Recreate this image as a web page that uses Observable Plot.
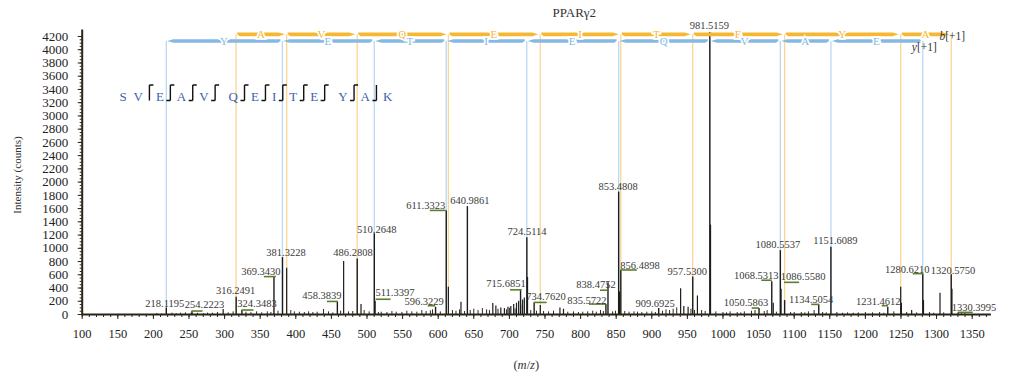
<!DOCTYPE html>
<html><head><meta charset="utf-8">
<script src="https://cdn.jsdelivr.net/npm/d3@7"></script>
<script src="https://cdn.jsdelivr.net/npm/@observablehq/plot@0.6"></script>
<style>
html,body{margin:0;padding:0;background:#fff;}
#chart svg{display:block;}
</style></head><body><div id="chart"></div>
<script>
// ---------------- data ----------------
const chartTitle = "PPARγ2";
const peptideSeq = ["S","V","E","A","V","Q","E","I","T","E","Y","A","K"];
const cleavageAfter = ["", "y", "by", "by", "by", "by", "by", "by", "by", "by", "by", "b"];
const bIonMz = [316.15, 387.19, 486.26, 614.32, 743.36, 856.45, 957.49, 1086.54, 1249.60, 1320.64];
const bResidues = ["A","V","Q","E","I","T","E","Y","A"];
const yIonMz = [218.15, 381.21, 510.26, 611.30, 724.39, 853.43, 981.49, 1080.56, 1151.60, 1280.64];
const yResidues = ["Y","E","T","I","E","Q","V","A","E"];

const labeledMz = [218.1195, 254.2223, 316.2491, 324.3483, 369.3430, 381.3228, 458.3839, 486.2808, 510.2648, 511.3397, 596.3229, 611.3323, 640.9861, 715.6851, 724.5114, 734.7620, 835.5722, 838.4752, 853.4808, 856.4898, 909.6925, 957.5300, 981.5159, 1050.5863, 1068.5313, 1080.5537, 1086.5580, 1134.5054, 1151.6089, 1231.4612, 1280.6210, 1320.5750, 1330.3995];
const labeledIntensity = [100, 45, 260, 60, 565, 860, 190, 840, 1220, 200, 110, 1565, 1630, 365, 1160, 175, 150, 480, 1850, 665, 90, 565, 4260, 90, 495, 965, 211, 145, 1015, 110, 610, 600, 25];

const otherMz = [298.0, 387.2, 467.2, 491.6, 614.3, 632.0, 676.7, 681.0, 688.0, 693.0, 698.0, 702.0, 706.0, 710.0, 713.0, 718.6, 721.0, 725.5, 743.4, 771.0, 776.0, 854.5, 940.5, 945.0, 951.0, 964.1, 982.5, 1070.6, 1081.6, 1249.6, 1250.6, 1265.0, 1281.6, 1304.8, 1321.6];
const otherIntensity = [75, 700, 800, 150, 410, 186, 165, 130, 100, 90, 110, 120, 150, 170, 200, 220, 250, 560, 136, 100, 80, 340, 390, 120, 110, 280, 1350, 170, 380, 410, 170, 60, 210, 320, 380];

const noiseMz = [205, 212, 226, 232, 238, 245, 253, 262, 270, 276, 283, 290, 305, 312, 330, 337, 345, 352, 360, 365, 375, 393, 398, 405, 412, 418, 424, 430, 439, 446, 452, 463, 474, 480, 496, 503, 516, 520, 528, 535, 541, 549, 556, 563, 570, 577, 583, 589, 592, 603, 620, 625, 630, 637, 645, 650, 656, 662, 668, 672, 684, 696, 700, 708, 716, 730, 738, 748, 755, 762, 782, 790, 797, 803, 810, 817, 822, 828, 832, 845, 849, 862, 868, 875, 880, 886, 893, 900, 905, 915, 920, 925, 930, 935, 955, 960, 970, 975, 990, 1000, 1005, 1010, 1020, 1025, 1030, 1040, 1045, 1058, 1062, 1075, 1095, 1100, 1110, 1115, 1120, 1128, 1140, 1145, 1160, 1168, 1175, 1183, 1190, 1200, 1210, 1220, 1226, 1240, 1258, 1272, 1290, 1296, 1310, 1335, 1340];
const noiseIntensity = [15, 10, 20, 12, 20, 25, 20, 18, 12, 20, 20, 30, 25, 40, 35, 28, 40, 25, 40, 30, 50, 60, 40, 35, 30, 40, 30, 35, 75, 40, 25, 50, 40, 45, 60, 40, 30, 35, 30, 45, 35, 30, 50, 40, 35, 60, 45, 55, 70, 40, 60, 50, 70, 45, 60, 80, 60, 90, 70, 60, 80, 70, 95, 85, 140, 60, 50, 45, 40, 50, 35, 40, 30, 35, 40, 50, 35, 60, 45, 40, 50, 45, 35, 40, 35, 30, 35, 40, 30, 50, 70, 60, 80, 100, 80, 60, 60, 45, 40, 30, 25, 40, 30, 25, 40, 50, 60, 45, 60, 35, 30, 30, 30, 25, 40, 60, 30, 25, 30, 20, 25, 20, 25, 30, 25, 30, 20, 40, 30, 25, 30, 20, 25, 15, 12];

const xTicks = d3.range(100, 1351, 50);
const xMinorTicks = d3.range(100, 1371, 10);
const yTicks = d3.range(0, 4201, 200);
const yMinorTicks = d3.range(0, 4201, 50);

// ---------------- layout (pixels, not data) ----------------
const labelLayout = {
  "218.1195": {dx: -1, dy: -4},
  "254.2223": {dx: 13, dy: -7, leader: [0, 11]},
  "316.2491": {dx: 0, dy: -6},
  "324.3483": {dx: 15.6, dy: -7, leader: [0, 12]},
  "369.3430": {dx: -12.6, dy: -5, leader: [-9.6, 2.4]},
  "381.3228": {dx: 4, dy: -5},
  "458.3839": {dx: -15, dy: -5.7, leader: [-10, 1]},
  "486.2808": {dx: -3.7, dy: -5.7},
  "510.2648": {dx: 3, dy: -4},
  "511.3397": {dx: 20.4, dy: -8, leader: [1, 16], ldy: -1.5},
  "596.3229": {dx: -11, dy: -5, leader: [-7.4, 0], ldy: -1},
  "611.3323": {dx: -20, dy: -5, leader: [-16, 0]},
  "640.9861": {dx: 3, dy: -6},
  "715.6851": {dx: -14, dy: -6.5, leader: [-10, 1.6]},
  "724.5114": {dx: 0.7, dy: -5.5},
  "734.7620": {dx: 12.4, dy: -5.7, leader: [0, 13]},
  "835.5722": {dx: -18.5, dy: -4, leader: [-16.5, 0]},
  "838.4752": {dx: -11.5, dy: 2, leader: [-7.5, 0.5], ldy: 8},
  "853.4808": {dx: 0, dy: -5},
  "856.4898": {dx: 19.7, dy: -5, leader: [0, 16.5]},
  "909.6925": {dx: -3, dy: -5},
  "957.5300": {dx: -5, dy: -5},
  "981.5159": {dx: 0, dy: -6.3},
  "1050.5863": {dx: -12.5, dy: -5.5, leader: [-6.8, 0.5]},
  "1068.5313": {dx: -15, dy: -6, leader: [-10, 0.5], ldy: -1},
  "1080.5537": {dx: -2, dy: -6},
  "1086.5580": {dx: 19, dy: -23.3, leader: [0, 15], ldy: -17.7},
  "1134.5054": {dx: -7, dy: -5.4, leader: [-7, 1]},
  "1151.6089": {dx: 5, dy: -6.8},
  "1231.4612": {dx: -9, dy: -5.7, leader: [-5.6, 0.7], ldy: -1},
  "1280.6210": {dx: -15, dy: -4.6, leader: [-9.6, 0.7]},
  "1320.5750": {dx: 2.3, dy: -4.3},
  "1330.3995": {dx: 16.3, dy: -5, leader: [0, 15]}
};
const C = {axis: "#2b2418", peak: "#1c1c1c", noise: "#2a2a2a", label: "#3a3a3a", leader: "#5b7f2c",
  bBar: "#f6b733", bLine: "#fbd594", yBar: "#85b8e3", yLine: "#b9d8f1", seq: "#3d62ac", bracket: "#111"};
const FONT = "'Liberation Serif', 'DejaVu Serif', serif";
const bLevel = 4225, yLevel = 4125, seqLevel = 3293, seqStartMz = 158.3;

const peaks = labeledMz.map((mz, i) => ({mz, intensity: labeledIntensity[i], label: mz.toFixed(4)}));
const others = otherMz.map((mz, i) => ({mz, intensity: otherIntensity[i]}));
const noise = noiseMz.map((mz, i) => ({mz, intensity: noiseIntensity[i]}));

// ---------------- custom marks using Plot scales ----------------
function labelMark(index, scales) {
  const x = scales.x, y = scales.y;
  const g = d3.create("svg:g").attr("font-family", FONT).attr("font-size", 10.5)
    .attr("fill", C.label).attr("text-anchor", "middle");
  peaks.forEach(p => {
    const L = labelLayout[p.label] || {dx: 0, dy: -5};
    const px = x(p.mz), py = y(p.intensity);
    if (L.leader) {
      const ly = py + (L.ldy || 0);
      g.append("line").attr("x1", px + L.leader[0]).attr("x2", px + L.leader[1])
        .attr("y1", ly).attr("y2", ly).attr("stroke", C.leader).attr("stroke-width", 1.6);
    }
    g.append("text").attr("x", px + L.dx).attr("y", py + L.dy).attr("dy", "0.35em").text(p.label);
  });
  return g.node();
}

function ladderMark(index, scales) {
  const x = scales.x, y = scales.y;
  const g = d3.create("svg:g");
  const h = 1.8;
  function seg(xa, xb, yc, dir, color) {
    const x1 = xa + 1.5, x2 = xb - 1.5;
    let pts;
    if (dir > 0) pts = [[x1, yc - h], [x2 - 6, yc - h], [x2, yc], [x2 - 6, yc + h], [x1 + 2.5, yc + h], [x1, yc]];
    else pts = [[x2, yc - h], [x1 + 6, yc - h], [x1, yc], [x1 + 6, yc + h], [x2 - 2.5, yc + h], [x2, yc]];
    g.append("path").attr("d", "M" + pts.map(p => p.join(",")).join("L") + "Z").attr("fill", color);
  }
  function letters(ions, residues, yc, color) {
    residues.forEach((r, i) => {
      const xm = (x(ions[i]) + x(ions[i + 1])) / 2;
      g.append("text").attr("x", xm).attr("y", yc).attr("dy", "0.36em").attr("text-anchor", "middle")
        .attr("font-family", FONT).attr("font-size", 11).attr("fill", color)
        .attr("stroke", "white").attr("stroke-width", 3.5).attr("paint-order", "stroke").text(r);
    });
  }
  const yb = y(bLevel), yy = y(yLevel);
  for (let i = 0; i < bIonMz.length - 1; i++) seg(x(bIonMz[i]), x(bIonMz[i + 1]), yb, 1, C.bBar);
  for (let i = 0; i < yIonMz.length - 1; i++) seg(x(yIonMz[i]), x(yIonMz[i + 1]), yy, -1, C.yBar);
  letters(bIonMz, bResidues, yb, C.bBar);
  letters(yIonMz, yResidues, yy, C.yBar);
  const tb = g.append("text").attr("x", x(bIonMz[bIonMz.length - 1]) + 1.5).attr("y", yb + 1.5).attr("dy", "0.35em")
    .attr("font-family", FONT).attr("font-size", 11.5).attr("fill", "#333");
  tb.append("tspan").attr("font-style", "italic").text("b");
  tb.append("tspan").text("[+1]");
  const ty = g.append("text").attr("x", x(yIonMz[yIonMz.length - 1]) + 2).attr("y", yy + 6).attr("dy", "0.35em")
    .attr("font-family", FONT).attr("font-size", 11.5).attr("fill", "#333");
  ty.append("tspan").attr("font-style", "italic").text("y");
  ty.append("tspan").text("[+1]");
  return g.node();
}

function sequenceMark(index, scales) {
  const x = scales.x, y = scales.y;
  const g = d3.create("svg:g");
  const widths = {S: .556, V: .722, E: .611, A: .722, Q: .722, I: .333, T: .611, Y: .722, K: .722};
  const fs = 13;
  let cx = x(seqStartMz);
  const cy = y(seqLevel);
  peptideSeq.forEach((r, i) => {
    g.append("text").attr("x", cx).attr("y", cy).attr("dy", "0.35em").attr("text-anchor", "middle")
      .attr("font-family", FONT).attr("font-size", fs).attr("fill", C.seq).text(r);
    if (i < peptideSeq.length - 1) {
      const w = widths[r] * fs / 2, wn = widths[peptideSeq[i + 1]] * fs / 2;
      const cut = cleavageAfter[i];
      if (cut) {
        const bx = cx + w + 6.5, top = cy - 11, bot = cy + 4.5;
        let d = `M${bx},${top}L${bx},${bot}`;
        if (cut.includes("b")) d += `M${bx - 4},${bot}L${bx},${bot}`;
        if (cut.includes("y")) d += `M${bx},${top}L${bx + 4},${top}`;
        g.append("path").attr("d", d).attr("fill", "none").attr("stroke", C.bracket).attr("stroke-width", 1.4);
        cx = cx + w + 13 + wn;
      } else {
        cx = cx + w + 6.7 + wn;
      }
      if ((i + 1) % 5 === 0) cx += 7;
    }
  });
  return g.node();
}

function textMark(index, scales, values, dim) {
  const g = d3.create("svg:g").attr("font-family", FONT).attr("fill", "#333");
  const fx = dim.marginLeft, fw = dim.width - dim.marginLeft - dim.marginRight;
  const fy = dim.marginTop, fh = dim.height - dim.marginTop - dim.marginBottom;
  g.append("text").attr("x", fx + fw / 2 + 38).attr("y", 12).attr("dy", "0.35em")
    .attr("text-anchor", "middle").attr("font-size", 13).text(chartTitle);
  g.append("text").attr("transform", `translate(17,${fy + fh / 2}) rotate(-90)`).attr("dy", "0.35em")
    .attr("text-anchor", "middle").attr("font-size", 11).text("Intensity (counts)");
  const xl = g.append("text").attr("x", fx + fw / 2 - 10).attr("y", dim.height - 13).attr("dy", "0.35em")
    .attr("text-anchor", "middle").attr("font-size", 12.5);
  xl.append("tspan").text("(");
  xl.append("tspan").attr("font-style", "italic").text("m");
  xl.append("tspan").text("/");
  xl.append("tspan").attr("font-style", "italic").text("z");
  xl.append("tspan").text(")");
  return g.node();
}

const fmt = d => String(d);

const chart = Plot.plot({
  width: 1019,
  height: 378,
  marginLeft: 81.7,
  marginRight: 28.1,
  marginTop: 36,
  marginBottom: 64,
  style: {fontFamily: FONT, fontSize: "13px", color: C.axis, background: "white", overflow: "visible"},
  x: {domain: [100, 1377], label: null},
  y: {domain: [0, 4200], label: null},
  marks: [
    Plot.ruleX(bIonMz, {x: d => d, y1: 0, y2: bLevel, stroke: C.bLine, strokeWidth: 1.3}),
    Plot.ruleX(yIonMz, {x: d => d, y1: 0, y2: yLevel, stroke: C.yLine, strokeWidth: 1.3}),
    Plot.ruleX(noise, {x: "mz", y1: 0, y2: "intensity", stroke: C.noise, strokeWidth: 1}),
    Plot.ruleX(others, {x: "mz", y1: 0, y2: "intensity", stroke: C.peak, strokeWidth: 1.2}),
    Plot.ruleX(peaks, {x: "mz", y1: 0, y2: "intensity", stroke: C.peak, strokeWidth: 1.4}),
    Plot.axisX({ticks: xMinorTicks, tickSize: 3, tickFormat: () => "", stroke: C.axis, label: null}),
    Plot.axisX({ticks: xTicks, tickSize: 5, tickPadding: 10, tickFormat: fmt, fontSize: 12.5, stroke: C.axis, fill: "#222", label: null}),
    Plot.axisY({ticks: yMinorTicks, tickSize: 2, tickFormat: () => "", stroke: C.axis, label: null}),
    Plot.axisY({ticks: yTicks, tickSize: 4, tickPadding: 10, tickFormat: fmt, fontSize: 13, stroke: C.axis, fill: "#222", label: null}),
    Plot.ruleY([0], {x1: 100, x2: 1377, stroke: C.axis, strokeWidth: 2}),
    Plot.ruleX([100], {y1: 0, y2: 4300, stroke: C.axis, strokeWidth: 2}),
    labelMark,
    ladderMark,
    sequenceMark,
    textMark
  ]
});
document.getElementById("chart").appendChild(chart);
</script>
</body></html>
